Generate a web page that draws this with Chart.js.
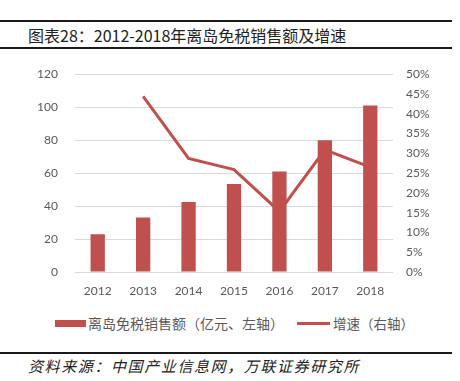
<!DOCTYPE html>
<html>
<head>
<meta charset="utf-8">
<script src="https://cdn.jsdelivr.net/npm/chart.js@4"></script>
<style>
  body { margin: 0; width: 460px; height: 381px; background: #fff; position: relative; overflow: hidden; font-family: "Noto Sans CJK SC", sans-serif; }
  .rule { position: absolute; left: 0; width: 452px; height: 2px; background: #1a1a1a; }
  #title { position: absolute; left: 28px; top: 25px; font-size: 16px; color: #222; white-space: nowrap; line-height: 20px; }
  #chart-wrap { position: absolute; left: 0; top: 50px; width: 460px; height: 252px; }
  #legend { position: absolute; top: 313px; left: 0; width: 460px; height: 20px; font-size: 14px; color: #595959; white-space: nowrap; }
  #legend span { position: absolute; line-height: 20px; }
  .swatch { position: absolute; background: #C0504D; }
  #source { position: absolute; left: 28px; top: 356px; font-size: 15px; font-style: italic; letter-spacing: 1.6px; color: #222; white-space: nowrap; line-height: 20px; }
</style>
</head>
<body>
<div class="rule" style="top:20px"></div>
<div id="title">图表28：2012-2018年离岛免税销售额及增速</div>
<div class="rule" style="top:47px"></div>
<div id="chart-wrap"><canvas id="chart"></canvas></div>
<div id="legend">
  <div class="swatch" style="left:55px; top:7px; width:31px; height:7px;"></div>
  <span style="left:88px; top:0;">离岛免税销售额（亿元、左轴）</span>
  <div class="swatch" style="left:297px; top:9px; width:33px; height:3px;"></div>
  <span style="left:333px; top:0; font-size:13.5px;">增速（右轴）</span>
</div>
<div class="rule" style="top:352px"></div>
<div id="source">资料来源：中国产业信息网，万联证券研究所</div>

<script>
// data
const years = ['2012', '2013', '2014', '2015', '2016', '2017', '2018'];
const sales = [22.9, 33, 42.4, 53.4, 61, 80, 101];           // 亿元, left axis
const growth = [null, 44.4, 28.7, 25.9, 15.3, 30.9, 26.5];   // %, right axis

const red = '#C0504D';
const grey = '#595959';
const tickFont = { family: 'Lato', size: 12 };

document.addEventListener('DOMContentLoaded', () => {
    const ctx = document.getElementById('chart').getContext('2d');
    new Chart(ctx, {
        type: 'bar',
        data: {
            labels: years,
            datasets: [
                {
                    type: 'line',
                    label: '增速（右轴）',
                    data: growth,
                    yAxisID: 'y1',
                    borderColor: red,
                    borderWidth: 3,
                    pointRadius: 0,
                    tension: 0,
                    order: 0
                },
                {
                    label: '离岛免税销售额（亿元、左轴）',
                    data: sales,
                    yAxisID: 'y',
                    backgroundColor: red,
                    barPercentage: 0.315,
                    categoryPercentage: 1,
                    order: 1
                }
            ]
        },
        options: {
            responsive: true,
            maintainAspectRatio: false,
            animation: false,
            layout: { padding: { top: 12, left: 0, right: 0, bottom: 0 } },
            plugins: {
                legend: { display: false },
                tooltip: { enabled: false }
            },
            scales: {
                x: {
                    grid: { display: false, drawTicks: false },
                    border: { display: false },
                    ticks: { color: grey, font: tickFont, padding: 12 },
                    afterFit: (scale) => { scale.height = 30; }
                },
                y: {
                    position: 'left',
                    min: 0,
                    max: 120,
                    grid: { color: '#D9D9D9', lineWidth: 1, drawTicks: false },
                    border: { display: false },
                    ticks: { stepSize: 20, color: grey, font: tickFont, padding: 17 },
                    afterFit: (scale) => { scale.width = 75; }
                },
                y1: {
                    position: 'right',
                    min: 0,
                    max: 50,
                    grid: { display: false, drawTicks: false },
                    border: { display: false },
                    ticks: {
                        stepSize: 5,
                        color: grey,
                        font: tickFont,
                        padding: 13,
                        callback: (v) => v + '%'
                    },
                    afterFit: (scale) => { scale.width = 67; }
                }
            }
        }
    });
});
</script>
</body>
</html>
